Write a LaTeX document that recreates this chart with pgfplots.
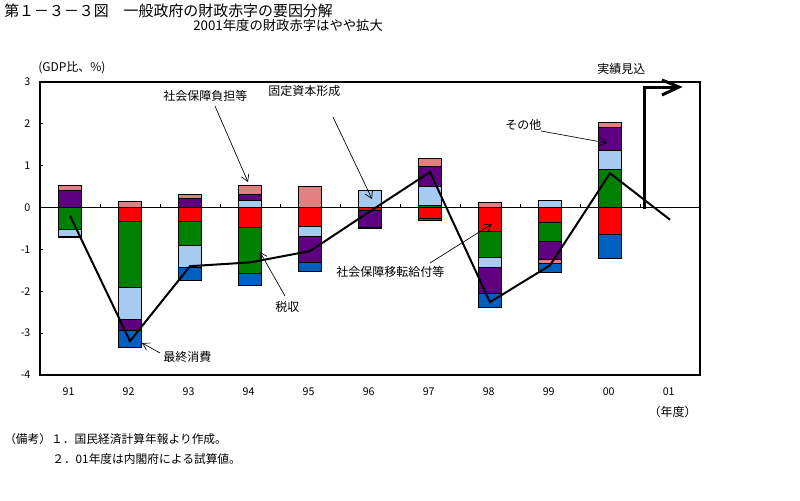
\documentclass[border=0pt]{standalone}
\usepackage{fontspec}
\setmainfont{Noto Sans CJK JP}
\usepackage{pgfplots}
\pgfplotsset{compat=1.18}
\usepackage{pgfplotstable}
\usetikzlibrary{arrows.meta}

\definecolor{cred}{RGB}{255,0,0}
\definecolor{cgreen}{RGB}{0,128,0}
\definecolor{clb}{RGB}{166,202,240}
\definecolor{cpur}{RGB}{94,0,128}
\definecolor{cpink}{RGB}{224,128,128}
\definecolor{cdb}{RGB}{0,96,192}

% positive parts (stacked upward from 0)
\pgfplotstableread{
x red green lb pur pink db
0 0 0 0 0.41 0.12 0
1 0 0 0 0 0.15 0
2 0 0 0 0.22 0.10 0
3 0 0 0.18 0.13 0.23 0
4 0 0 0 0 0.50 0
5 0 0 0.42 0 0 0
6 0 0.05 0.45 0.48 0.19 0
7 0 0 0 0 0.13 0
8 0 0 0.18 0 0 0
9 0 0.91 0.46 0.54 0.12 0
}\postab

% negative parts (stacked downward from 0)
\pgfplotstableread{
x red green lb pur pink db
0 0 -0.52 -0.16 0 0 -0.04
1 -0.34 -1.58 -0.76 -0.25 0 -0.41
2 -0.34 -0.56 -0.53 0 0 -0.30
3 -0.47 -1.10 0 0 0 -0.28
4 -0.45 0 -0.24 -0.62 0 -0.22
5 -0.07 0 0 -0.40 0 -0.04
6 -0.27 0 0 0 0 -0.04
7 -0.57 -0.61 -0.24 -0.64 0 -0.33
8 -0.35 -0.45 0 -0.44 -0.09 -0.23
9 -0.65 0 0 0 0 -0.56
}\negtab

% net financial balance (line)
\pgfplotstableread{
x y
0 -0.19
1 -3.19
2 -1.40
3 -1.31
4 -1.04
5 -0.09
6 0.85
7 -2.26
8 -1.38
9 0.82
10 -0.29
}\nettab

\pgfplotsset{
  base/.style={
    at={(30pt,-281.25pt)}, anchor=south west,
    scale only axis, width=495pt, height=219.75pt,
    xmin=-0.5, xmax=10.5, ymin=-4, ymax=3,
  },
  barbase/.style={base, ybar stacked, bar width=0.383,
    every axis plot/.append style={draw=black, line width=0.7pt}},
}

\begin{document}
\begin{tikzpicture}
\useasboundingbox (0,0) rectangle (600pt,-375pt);

% main axis: frame, ticks, positive bars
\begin{axis}[barbase,
  axis line style={line width=0.9pt},
  ytick={-4,-3,-2,-1,0,1,2,3},
  ytick pos=left,
  tick align=inside,
  major tick length=2.5pt,
  y tick style={black, line width=0.75pt},
  yticklabel style={font=\fontsize{8}{9}\selectfont, inner sep=1pt, xshift=-6pt},
  xtick={0,1,2,3,4,5,6,7,8,9,10},
  xticklabels={91,92,93,94,95,96,97,98,99,00,01},
  x tick style={draw=none},
  xticklabel style={font=\fontsize{8}{9}\selectfont, yshift=-6pt, xshift=-1pt},
  /pgf/number format/assume math mode=true,
]
\addplot[fill=cred] table[x=x,y=red]{\postab};
\addplot[fill=cgreen] table[x=x,y=green]{\postab};
\addplot[fill=clb] table[x=x,y=lb]{\postab};
\addplot[fill=cpur] table[x=x,y=pur]{\postab};
\addplot[fill=cpink] table[x=x,y=pink]{\postab};
\addplot[fill=cdb] table[x=x,y=db]{\postab};
\end{axis}

% negative bars
\begin{axis}[barbase, hide axis]
\addplot[fill=cred] table[x=x,y=red]{\negtab};
\addplot[fill=cgreen] table[x=x,y=green]{\negtab};
\addplot[fill=clb] table[x=x,y=lb]{\negtab};
\addplot[fill=cpur] table[x=x,y=pur]{\negtab};
\addplot[fill=cpink] table[x=x,y=pink]{\negtab};
\addplot[fill=cdb] table[x=x,y=db]{\negtab};
\end{axis}

% zero line and net line
\begin{axis}[base, hide axis]
\draw[black, line width=0.75pt] (axis cs:-0.5,0) -- (axis cs:10.5,0);
\pgfplotsinvokeforeach{0.5,1.5,2.5,3.5,4.5,5.5,6.5,7.5,8.5,9.5}{
  \draw[black, line width=0.75pt] (axis cs:#1,0) -- ++(0pt,2.5pt);
}
\addplot[black, line width=1.5pt, mark=none] table[x=x,y=y]{\nettab};
\end{axis}

% annotations in pixel coordinates
\begin{scope}[x=0.75pt,y=-0.75pt]
\node[anchor=west, inner sep=0pt, font=\fontsize{11.2}{13}\selectfont] at (4,10.5) {第１－３－３図　一般政府の財政赤字の要因分解};
\node[anchor=west, inner sep=0pt, font=\fontsize{10}{12}\selectfont] at (193,25) {2001年度の財政赤字はやや拡大};
\node[anchor=west, inner sep=0pt, font=\fontsize{9}{11}\selectfont] at (38,68) {(GDP比、\%)};

\node[anchor=west, inner sep=0pt, font=\fontsize{9}{11}\selectfont] at (163,96) {社会保障負担等};
\draw[line width=0.5pt, -{Straight Barb[length=5pt,width=6pt]}] (215,106) -- (248,182);

\node[anchor=west, inner sep=0pt, font=\fontsize{9}{11}\selectfont] at (268,91) {固定資本形成};
\draw[line width=0.5pt, -{Straight Barb[length=5pt,width=6pt]}] (333,117) -- (372,199);

\node[anchor=west, inner sep=0pt, font=\fontsize{9}{11}\selectfont] at (275,307) {税収};
\draw[line width=0.5pt, -{Straight Barb[length=5pt,width=6pt]}] (285,296) -- (260,252);

\node[anchor=west, inner sep=0pt, font=\fontsize{9}{11}\selectfont] at (336,272) {社会保障移転給付等};
\draw[line width=0.5pt, -{Straight Barb[length=5pt,width=6pt]}] (430,263) -- (492,224);

\node[anchor=west, inner sep=0pt, font=\fontsize{9}{11}\selectfont] at (163,357) {最終消費};
\draw[line width=0.5pt, -{Straight Barb[length=5pt,width=6pt]}] (160,353) -- (142,343);

\node[anchor=west, inner sep=0pt, font=\fontsize{9}{11}\selectfont] at (505,125) {その他};
\draw[line width=0.5pt, -{Straight Barb[length=5pt,width=6pt]}] (541,131) -- (607,143);

\node[anchor=west, inner sep=0pt, font=\fontsize{9}{11}\selectfont] at (597,69) {実績見込};
\draw[line width=2.25pt, line join=miter] (644,209) -- (644,87) -- (676,87);
\draw[line width=2.25pt, line join=miter] (662,80) -- (679,87) -- (662,95);

\node[anchor=east, inner sep=0pt, font=\fontsize{9}{11}\selectfont] at (697,412) {（年度）};

\node[anchor=west, inner sep=0pt, font=\fontsize{8.8}{11}\selectfont] at (4,439) {（備考）１．国民経済計算年報より作成。};
\node[anchor=west, inner sep=0pt, font=\fontsize{8.8}{11}\selectfont] at (52,459) {２．01年度は内閣府による試算値。};
\end{scope}
\end{tikzpicture}
\end{document}
